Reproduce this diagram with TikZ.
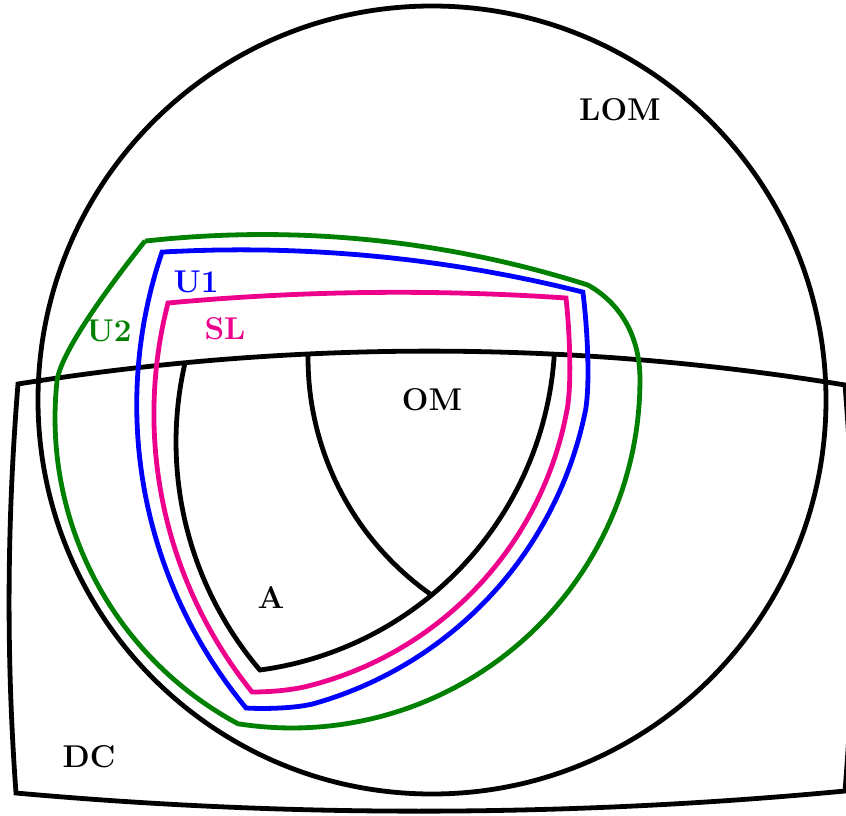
\documentclass[tikz,border=0pt]{standalone}
\definecolor{slcol}{RGB}{236,0,140}
\definecolor{uonecol}{RGB}{0,0,255}
\definecolor{utwocol}{RGB}{0,128,0}
\begin{document}
\begin{tikzpicture}[x=1pt,y=-1pt,
  line width=4.8pt,
  lbl/.style={font=\fontsize{31.5}{38}\selectfont\bfseries, inner sep=0pt}]
\useasboundingbox (0,0) rectangle (846,816);
% large circle LOM
\draw (432,400) circle (394);
% DC region
\draw (18,384) .. controls (294,340) and (570,340) .. (845,385)
  .. controls (856,520) and (856,656) .. (845,791)
  .. controls (570,817) and (293,818) .. (16,793)
  .. controls (6,656) and (7,520) .. (18,384) -- cycle;
% A region
\draw plot[domain=193.0:139.9,samples=40] ({528+352*cos(\x)},{442+352*sin(\x)})
  -- plot[domain=82.4:3.5,samples=60] ({215+340*cos(\x)},{333+340*sin(\x)});
\draw plot[domain=180.8:124.8,samples=40] ({597+289*cos(\x)},{358+289*sin(\x)});
% SL
\draw[slcol] (168,303) .. controls (300.7,290.7) and (433.3,289) .. (566,298)
  .. controls (569,325) and (572.4,380.7) .. (567,410.2)
  -- plot[domain=10.6:76,samples=60] ({223.3+349.4*cos(\x)},{347.1+349.4*sin(\x)})
  .. controls (288.4,690.9) and (266,692) .. (252,692)
  -- plot[domain=141.4:194.2,samples=50] ({597.2+443.3*cos(\x)},{413.9+443.3*sin(\x)})
  -- cycle;
% U1
\draw[uonecol] plot[domain=-93.23:-75.91,samples=50] ({241.1+1404.2*cos(\x)},{1654+1404.2*sin(\x)})
  .. controls (587,325) and (590.5,380) .. (585.6,410)
  -- plot[domain=11.5:74,samples=60] ({210+383*cos(\x)},{335+383*sin(\x)})
  .. controls (296.4,708.7) and (262,709) .. (246,708)
  -- plot[domain=140.6:198.5,samples=50] ({611.2+474.5*cos(\x)},{405+474.5*sin(\x)})
  -- cycle;
% U2
\draw[utwocol] plot[domain=-96.34:-72.33,samples=50] ({263.1+1070.1*cos(\x)},{1304.6+1070.1*sin(\x)})
  .. controls (615,300) and (640,330) .. (640,380)
  -- plot[domain=0.3:98.5,samples=60] ({292+348*cos(\x)},{380+348*sin(\x)})
  -- plot[domain=118.2:186.3,samples=50] ({402+347*cos(\x)},{418+347*sin(\x)})
  .. controls (62,350) and (110,285) .. (145,241)
  -- cycle;
% labels
\node[lbl] (lom) at (620,110) {LOM};
\node[lbl] (om) at (432,400) {OM};
\node[lbl] (a) at (271,597) {A};
\node[lbl] (dc) at (89,757) {DC};
\node[lbl,text=uonecol] (u1) at (196,282) {U1};
\node[lbl,text=slcol] (sl) at (225,329) {SL};
\node[lbl,text=utwocol] (u2) at (109,331) {U2};
\end{tikzpicture}
\end{document}
